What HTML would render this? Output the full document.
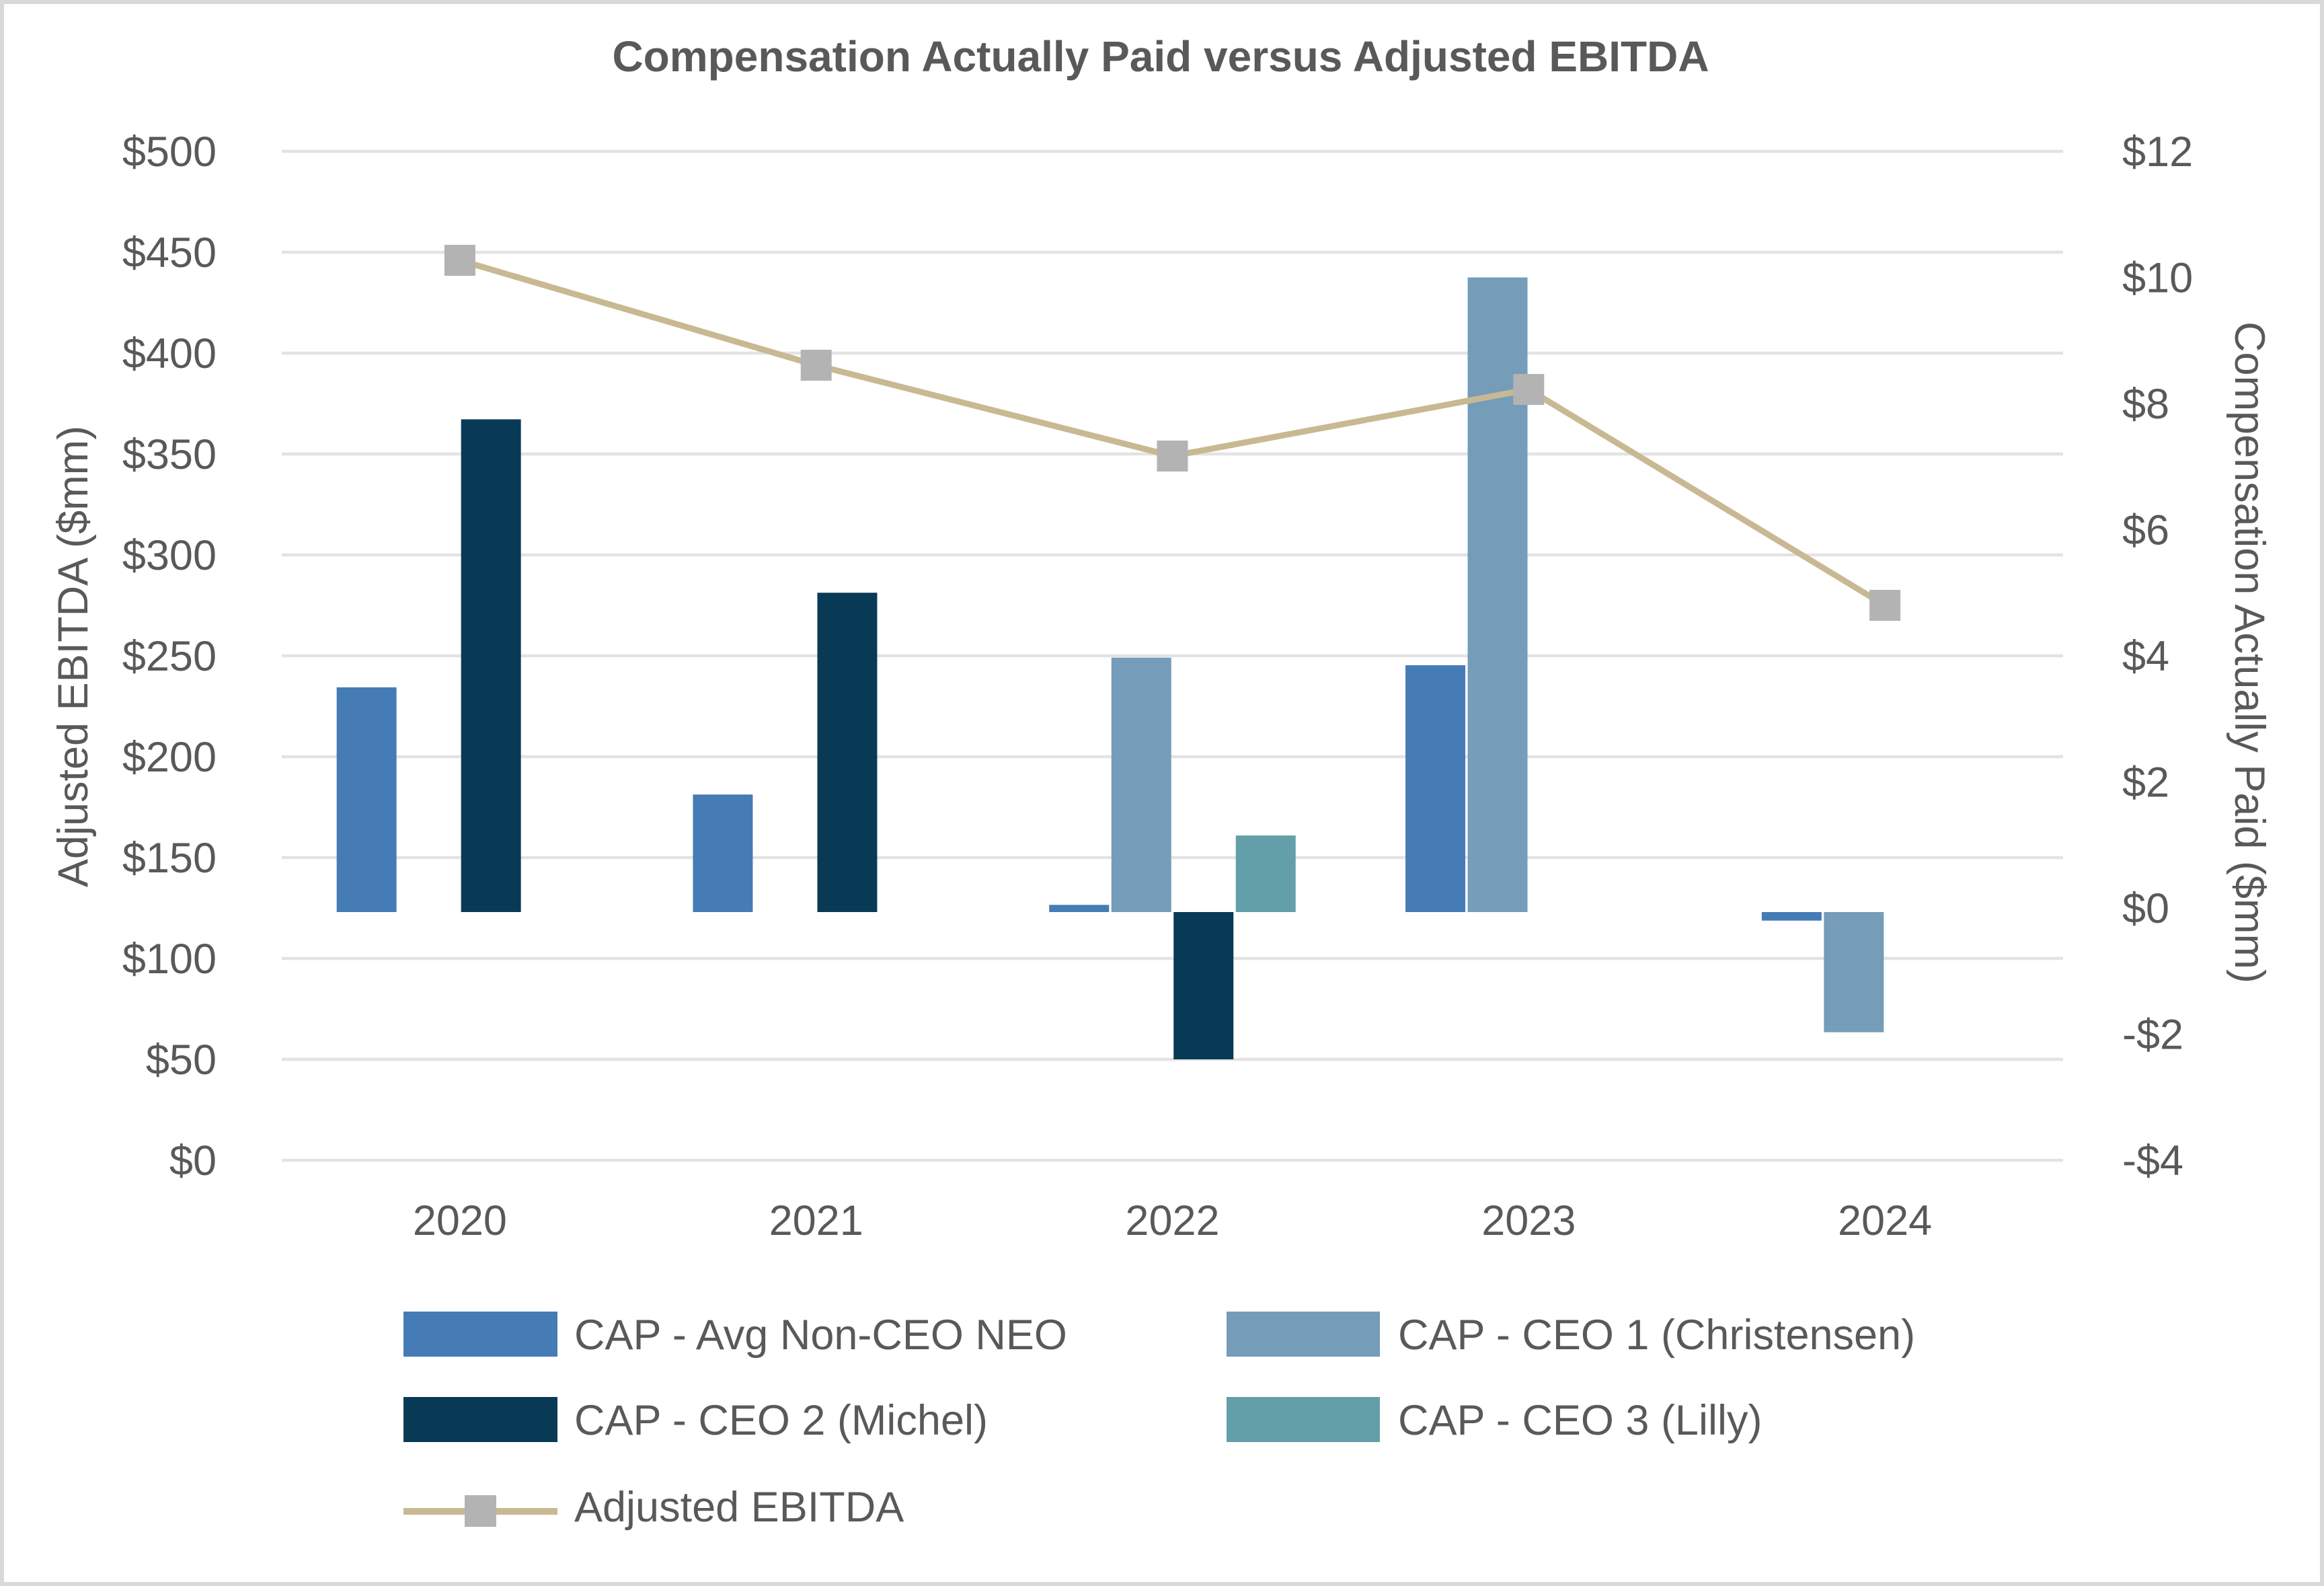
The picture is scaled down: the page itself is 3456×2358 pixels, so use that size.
<!DOCTYPE html>
<html><head><meta charset="utf-8"><style>
html,body{margin:0;padding:0;background:#fff}
svg{display:block;font-family:"Liberation Sans",Arial,sans-serif}
</style></head><body>
<svg id="chart" width="3456" height="2358" viewBox="0 0 3456 2358">
<rect x="3" y="3" width="3450" height="2352" fill="#fff" stroke="#d9d9d9" stroke-width="6"/>
<text x="1726" y="106" text-anchor="middle" font-size="64" font-weight="bold" fill="#595959">Compensation Actually Paid versus Adjusted EBITDA</text>
<g id="grid"></g><g id="bars"></g><g id="line"></g><g id="axes"></g>
<text transform="translate(130,976) rotate(-90)" text-anchor="middle" font-size="63" fill="#595959">Adjusted EBITDA ($mm)</text>
<text transform="translate(3324,970) rotate(90)" text-anchor="middle" font-size="63" fill="#595959">Compensation Actually Paid ($mm)</text>
<g font-size="63" fill="#595959">
<rect x="600" y="1950" width="229" height="67" fill="#457cb5"/>
<text x="854" y="2006">CAP - Avg Non-CEO NEO</text>
<rect x="1824" y="1950" width="228" height="67" fill="#759cb9"/>
<text x="2079" y="2006">CAP - CEO 1 (Christensen)</text>
<rect x="600" y="2077" width="229" height="67" fill="#083a56"/>
<text x="854" y="2133">CAP - CEO 2 (Michel)</text>
<rect x="1824" y="2077" width="228" height="67" fill="#629fa8"/>
<text x="2079" y="2133">CAP - CEO 3 (Lilly)</text>
<line x1="600" y1="2247" x2="829" y2="2247" stroke="#c8b993" stroke-width="10"/>
<rect x="691" y="2223" width="47" height="47" fill="#b3b3b3"/>
<text x="854" y="2262">Adjusted EBITDA</text>
</g>
</svg>
<script>
const years = ["2020","2021","2022","2023","2024"];
const capAvgNeo = [3.5, 1.8, 0.05, 3.85, -0.2];
const capCeo1 = [null, null, 3.97, 10.0, -1.97];
const capCeo2 = [7.75, 5.0, -2.4, null, null];
const capCeo3 = [null, null, 1.15, null, null];
const ebitda = [446, 394, 349, 382, 275];
const leftTicks = [0,50,100,150,200,250,300,350,400,450,500];
const rightTicks = [-4,-2,0,2,4,6,8,10,12];

const NS="http://www.w3.org/2000/svg";
const X0=419, X1=3068, YT=225, YB=1725;
const catW=(X1-X0)/years.length;
const cx=i=>X0+catW*(i+0.5);
const yL=v=>YB-(v-0)/(500-0)*(YB-YT);
const yR=v=>YB-(v-(-4))/(12-(-4))*(YB-YT);
function mk(tag,attrs,parent){const e=document.createElementNS(NS,tag);for(const k in attrs)e.setAttribute(k,attrs[k]);parent.appendChild(e);return e;}
const grid=document.getElementById('grid'),axes=document.getElementById('axes'),bars=document.getElementById('bars'),line=document.getElementById('line');
leftTicks.forEach(t=>{
  const g=mk('line',{x1:X0,x2:X1,y1:yL(t),y2:yL(t),stroke:'#e3e3e3','stroke-width':4.5},grid);
  
  
  const tx=mk('text',{x:322,y:yL(t)+22,'text-anchor':'end','font-size':63,fill:'#595959'},axes);
  tx.textContent='$'+t;
  
  
});
rightTicks.forEach(t=>{
  const tx=mk('text',{x:3156,y:yR(t)+22,'font-size':63,fill:'#595959'},axes);
  tx.textContent=(t<0?'-$'+(-t):'$'+t);
  
  
});
years.forEach((y,i)=>{
  const tx=mk('text',{x:cx(i),y:1836,'text-anchor':'middle','font-size':63,fill:'#595959'},axes);
  tx.textContent=y;
  
  
});
const series=[[capAvgNeo,'#457cb5','bar-avg-neo'],[capCeo1,'#759cb9','bar-ceo1'],[capCeo2,'#083a56','bar-ceo2'],[capCeo3,'#629fa8','bar-ceo3']];
const pitch=92.5,bw=89;
series.forEach(([vals,col,name],s)=>{
  vals.forEach((v,i)=>{
    if(v===null)return;
    const xc=cx(i)+(s-1.5)*pitch;
    const y0=yR(0)+6,y1=yR(v);
    let top=Math.min(y0,y1),h=Math.max(Math.abs(y1-y0),1);
    const r=mk('rect',{x:xc-bw/2,y:top,width:bw,height:h,fill:col},bars);
    
    
  });
});
const pts=ebitda.map((v,i)=>cx(i)+','+yL(v)).join(' ');
const pl=mk('polyline',{points:pts,fill:'none',stroke:'#c8b993','stroke-width':9},line);


ebitda.forEach((v,i)=>{
  const m=mk('rect',{x:cx(i)-23,y:yL(v)-23,width:46,height:46,fill:'#b3b3b3'},line);
  
  
});
</script>
</body></html>
